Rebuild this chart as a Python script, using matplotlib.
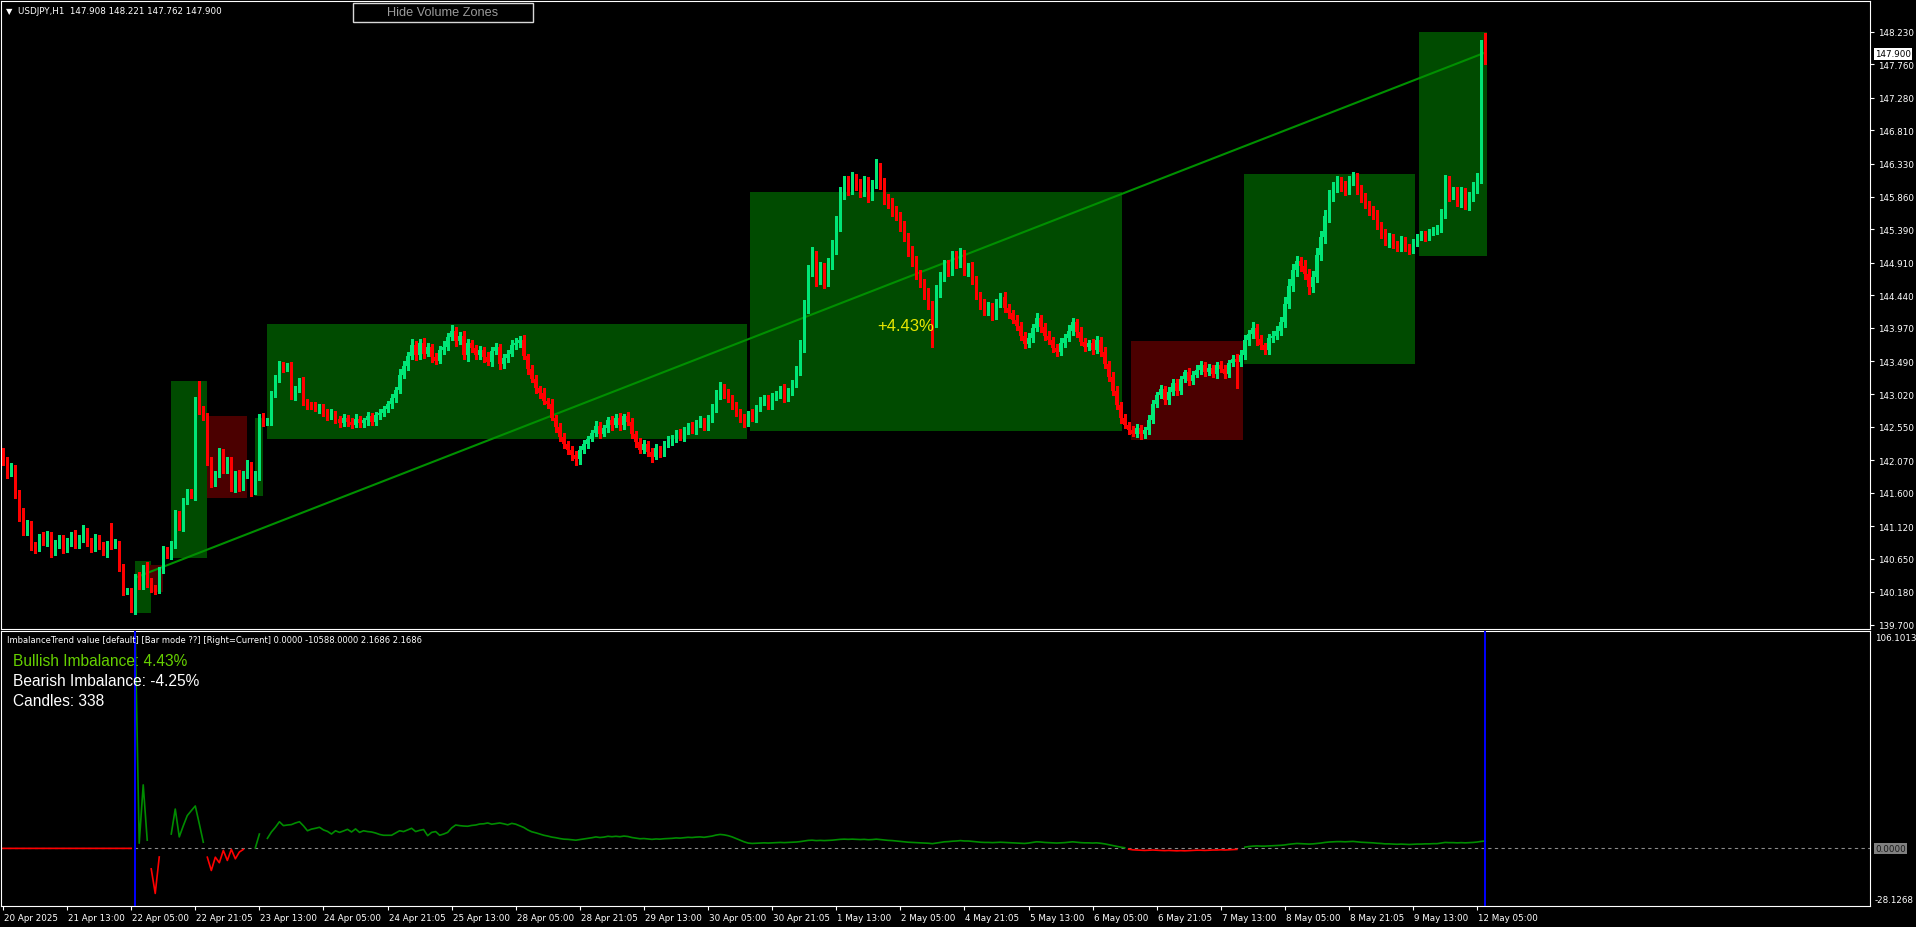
"""
USDJPY H1 chart with volume zones and ImbalanceTrend sub-window.
Rebuilt from a MetaTrader screenshot.
"""

import numpy as np
import matplotlib
matplotlib.use("Agg")
import matplotlib.pyplot as plt
from matplotlib.patches import Rectangle
from matplotlib import font_manager
from matplotlib.transforms import ScaledTranslation

# ── Data ──────────────────────────────────────────────────────
CLOSES = [
    142.05, 141.90, 141.95, 141.60, 141.30, 141.05, 141.15, 140.85, 140.80, 140.95, 140.90, 141.00, 140.75, 140.85, 140.95, 140.80,
    140.90, 141.00, 140.85, 140.95, 141.05, 140.90, 140.80, 140.95, 140.85, 140.75, 140.86, 140.84, 140.87, 140.53, 140.18, 140.19,
    139.91, 140.38, 140.26, 140.50, 140.31, 140.22, 140.20, 140.50, 140.77, 140.70, 140.86, 141.29, 141.10, 141.49, 141.61, 141.58,
    142.92, 142.80, 142.69, 142.06, 141.75, 141.87, 142.18, 141.94, 142.06, 141.68, 141.87, 141.68, 141.87, 141.99, 141.63, 141.85,
    142.69, 142.61, 142.63, 143.02, 143.24, 143.44, 143.39, 143.42, 143.00, 143.10, 143.20, 142.90, 142.87, 142.85, 142.81, 142.82,
    142.76, 142.70, 142.74, 142.66, 142.60, 142.68, 142.62, 142.58, 142.66, 142.60, 142.64, 142.70, 142.62, 142.72, 142.75, 142.80,
    142.87, 142.96, 143.08, 143.30, 143.43, 143.57, 143.72, 143.58, 143.76, 143.60, 143.70, 143.55, 143.50, 143.66, 143.70, 143.84,
    143.93, 143.78, 143.86, 143.58, 143.75, 143.68, 143.58, 143.65, 143.55, 143.48, 143.64, 143.70, 143.45, 143.54, 143.60, 143.72,
    143.76, 143.80, 143.56, 143.38, 143.24, 143.10, 143.04, 142.92, 142.88, 142.68, 142.55, 142.40, 142.30, 142.22, 142.14, 142.08,
    142.22, 142.30, 142.38, 142.46, 142.56, 142.45, 142.53, 142.65, 142.58, 142.68, 142.57, 142.70, 142.62, 142.45, 142.33, 142.22,
    142.30, 142.19, 142.12, 142.24, 142.18, 142.30, 142.35, 142.38, 142.46, 142.40, 142.49, 142.56, 142.50, 142.60, 142.63, 142.54,
    142.67, 142.82, 143.00, 143.12, 143.03, 142.96, 142.86, 142.75, 142.68, 142.60, 142.74, 142.68, 142.81, 142.91, 142.95, 142.86,
    142.98, 143.02, 143.09, 142.96, 143.05, 143.16, 143.35, 143.70, 144.25, 144.78, 145.00, 144.68, 144.82, 144.64, 144.88, 145.12,
    145.46, 145.90, 146.07, 145.97, 146.11, 146.02, 145.95, 146.07, 145.88, 146.04, 146.25, 146.05, 145.84, 145.76, 145.66, 145.58,
    145.44, 145.28, 145.09, 144.93, 144.74, 144.63, 144.47, 144.30, 144.08, 144.50, 144.70, 144.88, 144.79, 144.99, 144.91, 145.02,
    144.79, 144.84, 144.65, 144.44, 144.32, 144.21, 144.28, 144.16, 144.32, 144.41, 144.26, 144.18, 144.09, 144.00, 143.86, 143.74,
    143.83, 143.97, 144.11, 143.98, 143.86, 143.79, 143.68, 143.63, 143.75, 143.83, 143.93, 144.05, 143.91, 143.77, 143.70, 143.75,
    143.66, 143.79, 143.63, 143.45, 143.26, 143.07, 142.86, 142.68, 142.58, 142.51, 142.45, 142.53, 142.44, 142.50, 142.65, 142.88,
    143.00, 143.09, 142.93, 143.05, 143.18, 143.07, 143.23, 143.33, 143.21, 143.30, 143.37, 143.44, 143.33, 143.39, 143.31, 143.44,
    143.38, 143.31, 143.47, 143.53, 143.48, 143.58, 143.79, 143.88, 143.97, 143.81, 143.72, 143.65, 143.83, 143.86, 143.93, 144.05,
    144.32, 144.58, 144.81, 144.93, 144.86, 144.75, 144.56, 144.70, 145.02, 145.28, 145.58, 145.86, 145.99, 146.07, 146.02, 145.95,
    146.07, 146.14, 145.97, 145.84, 145.74, 145.67, 145.60, 145.44, 145.32, 145.21, 145.27, 145.18, 145.12, 145.23, 145.14, 145.09,
    145.20, 145.28, 145.31, 145.28, 145.35, 145.37, 145.41, 145.62, 146.07, 145.88, 145.93, 145.79, 145.92, 145.74, 145.86, 145.99,
    146.11, 147.91, 147.90,
]
FIRST_OPEN = 142.15
LAST_OPEN = 147.908

# wick lengths in hundredths of a yen
WICK_HI = [
    10, 6, 8, 5, 4, 8, 6, 5, 4, 6, 8, 5, 4, 7, 5, 4,
    5, 4, 6, 5, 8, 4, 5, 6, 5, 4, 5, 31, 6, 4, 5, 4,
    4, 5, 8, 6, 10, 6, 5, 4, 6, 5, 4, 6, 5, 4, 5, 4,
    6, 29, 5, 6, 5, 4, 6, 5, 6, 5, 4, 6, 5, 8, 5, 6,
    5, 6, 4, 5, 6, 5, 4, 5, 6, 4, 5, 6, 5, 4, 6, 5,
    6, 5, 7, 4, 5, 6, 4, 5, 7, 5, 4, 6, 5, 4, 6, 5,
    5, 6, 4, 8, 6, 5, 9, 6, 5, 7, 6, 4, 6, 5, 8, 6,
    8, 6, 5, 7, 6, 5, 4, 6, 5, 7, 6, 5, 4, 6, 5, 7,
    6, 5, 7, 4, 6, 5, 4, 6, 5, 7, 4, 5, 6, 4, 5, 6,
    5, 6, 4, 5, 7, 6, 5, 4, 6, 5, 7, 4, 6, 5, 4, 6,
    6, 4, 5, 6, 4, 5, 7, 5, 4, 6, 5, 4, 6, 5, 7, 4,
    5, 6, 8, 7, 5, 6, 4, 5, 6, 5, 4, 6, 5, 7, 6, 5,
    6, 5, 4, 7, 5, 6, 8, 10, 12, 9, 14, 7, 10, 8, 9, 11,
    12, 10, 9, 8, 10, 7, 9, 8, 7, 6, 15, 9, 7, 6, 8, 7,
    6, 7, 5, 6, 8, 6, 5, 7, 6, 9, 8, 7, 6, 8, 9, 10,
    7, 6, 8, 6, 5, 7, 6, 5, 7, 6, 8, 6, 5, 7, 6, 5,
    7, 6, 8, 5, 6, 7, 5, 6, 7, 5, 8, 6, 5, 7, 6, 5,
    6, 7, 5, 6, 5, 7, 6, 5, 6, 4, 5, 6, 4, 5, 7, 6,
    5, 6, 4, 7, 5, 6, 5, 4, 6, 5, 7, 5, 4, 6, 5, 4,
    5, 6, 4, 5, 6, 7, 8, 6, 9, 5, 6, 4, 5, 6, 7, 8,
    10, 9, 8, 7, 6, 8, 7, 9, 10, 8, 9, 10, 8, 9, 7, 6,
    8, 7, 6, 5, 7, 6, 5, 6, 5, 7, 6, 5, 4, 6, 5, 4,
    5, 4, 6, 5, 4, 5, 4, 6, 10, 8, 7, 6, 8, 6, 7, 8,
    9, 20, 31,
]
WICK_LO = [
    5, 8, 6, 8, 10, 6, 5, 7, 6, 4, 5, 6, 8, 5, 4, 6,
    5, 6, 4, 5, 6, 7, 5, 4, 6, 5, 8, 5, 4, 6, 5, 4,
    3, 5, 4, 5, 6, 5, 6, 4, 5, 4, 5, 6, 4, 5, 5, 6,
    8, 6, 5, 6, 7, 5, 4, 6, 5, 6, 7, 5, 4, 6, 7, 5,
    6, 5, 4, 5, 4, 5, 6, 4, 5, 6, 5, 4, 6, 5, 4, 6,
    5, 6, 4, 6, 5, 4, 6, 5, 4, 6, 5, 7, 4, 5, 6, 4,
    4, 5, 6, 4, 5, 6, 4, 7, 5, 6, 4, 7, 5, 4, 6, 5,
    5, 7, 4, 6, 8, 5, 6, 5, 7, 4, 6, 5, 7, 5, 6, 4,
    5, 6, 4, 7, 5, 6, 7, 5, 6, 4, 7, 6, 5, 6, 7, 8,
    7, 5, 6, 4, 5, 6, 4, 5, 7, 4, 6, 5, 4, 6, 7, 5,
    5, 6, 7, 4, 6, 5, 4, 6, 5, 4, 6, 5, 4, 6, 5, 4,
    4, 5, 6, 5, 7, 6, 5, 4, 6, 5, 4, 5, 6, 4, 5, 6,
    5, 4, 6, 5, 4, 5, 4, 6, 8, 7, 6, 10, 8, 9, 7, 6,
    8, 10, 7, 9, 8, 7, 9, 8, 10, 7, 6, 8, 9, 7, 8, 6,
    7, 6, 8, 7, 6, 7, 8, 6, 39, 10, 8, 6, 7, 6, 8, 7,
    6, 7, 5, 6, 8, 6, 5, 7, 6, 5, 6, 7, 5, 6, 7, 6,
    5, 6, 5, 7, 6, 5, 6, 7, 5, 6, 5, 6, 7, 5, 6, 5,
    6, 5, 7, 6, 5, 7, 6, 7, 5, 6, 4, 5, 6, 5, 6, 4,
    5, 4, 6, 5, 4, 6, 5, 4, 6, 5, 4, 6, 5, 4, 5, 6,
    5, 6, 4, 5, 38, 6, 5, 7, 6, 8, 5, 6, 5, 6, 5, 6,
    6, 7, 8, 9, 7, 8, 10, 8, 7, 8, 9, 8, 7, 6, 8, 7,
    6, 5, 7, 6, 5, 7, 6, 5, 6, 5, 7, 6, 5, 4, 6, 5,
    4, 5, 4, 6, 5, 4, 5, 6, 7, 8, 6, 7, 8, 6, 7, 6,
    8, 5, 14,
]

# ImbalanceTrend values per bar (None = no value drawn)
IMBALANCE = [
    0, 0, 0, 0, 0, 0, 0, 0, 0, 0, 0, 0, 0, 0, 0, 0,
    0, 0, 0, 0, 0, 0, 0, 0, 0, 0, 0, 0, 0, 0, 0, 0,
    0, 106, 2.5, 31, 4, -10, -22, -4.2, None, None, 7.0, 19.2, 5.6, 11, 16, 18.4,
    20.7, 12, 3, -4.3, -10.8, -4.3, -7, -1.0, -5.9, -0.5, -5.1, -1.8, -0.5, None, None, 0.3,
    7, None, 4.9, 8.0, 10.3, 13.0, 11.1, 11.4, 11.6, 12.4, 13.0, 11.0, 8.6, 9.4, 9.8, 10.3,
    9.0, 8.3, 7.0, 8.6, 7.8, 8.5, 9.3, 8.0, 9.5, 7.8, 8.6, 8.2, 8.0, 7.5, 6.8, 6.4,
    6.4, 6.4, 7.5, 8.6, 8.2, 9.0, 9.8, 8.2, 8.8, 9.2, 6.2, 7.8, 8.2, 6.4, 7.0, 7.8,
    10.0, 11.4, 11.1, 10.9, 10.8, 11.2, 11.4, 11.9, 12.0, 12.4, 11.8, 12.1, 12.4, 12.0, 11.5, 12.2,
    11.8, 11.0, 10.2, 9.0, 8.1, 7.6, 7.0, 6.4, 6.0, 5.5, 5.2, 4.8, 4.5, 4.4, 4.2, 4.0,
    4.3, 4.6, 4.9, 5.2, 5.6, 5.3, 5.5, 5.9, 5.7, 5.9, 5.7, 6.0, 5.8, 5.3, 5.0, 4.7,
    4.8, 4.6, 4.4, 4.6, 4.5, 4.7, 4.8, 4.9, 5.1, 5.0, 5.2, 5.4, 5.3, 5.5, 5.6, 5.4,
    5.7, 6.0, 6.5, 6.8, 6.6, 6.2, 5.6, 4.8, 4.0, 3.2, 2.6, 2.4, 2.5, 2.6, 2.7, 2.6,
    2.7, 2.8, 2.9, 2.8, 2.9, 3.0, 3.1, 3.3, 3.6, 3.9, 4.0, 3.8, 3.9, 3.8, 3.9, 4.0,
    4.2, 4.4, 4.5, 4.4, 4.5, 4.4, 4.3, 4.4, 4.2, 4.3, 4.5, 4.3, 4.1, 3.9, 3.8, 3.6,
    3.4, 3.2, 3.0, 2.9, 2.8, 2.7, 2.6, 2.5, 2.3, 2.6, 2.9, 3.2, 3.3, 3.5, 3.6, 3.8,
    3.6, 3.6, 3.4, 3.2, 3.0, 2.9, 2.9, 2.8, 2.9, 3.0, 2.9, 2.8, 2.7, 2.6, 2.5, 2.4,
    2.6, 2.9, 3.2, 3.1, 2.9, 2.8, 2.7, 2.6, 2.7, 2.8, 3.0, 3.2, 3.0, 2.8, 2.7, 2.7,
    2.6, 2.7, 2.5, 2.2, 1.8, 1.4, 1.0, 0.6, 0.3, -0.4, -0.7, -0.8, -0.9, -1.0, -0.9, -0.8,
    -0.9, -1.0, -1.1, -1.0, -1.1, -1.2, -1.1, -1.2, -1.1, -1.0, -0.9, -0.9, -1.0, -0.9, -0.8, -0.8,
    -0.7, -0.8, -0.7, -0.6, -0.5, None, 0.6, 0.9, 1.1, 1.2, 1.1, 1.1, 1.2, 1.3, 1.4, 1.5,
    1.7, 2.0, 2.2, 2.4, 2.3, 2.2, 2.1, 2.2, 2.4, 2.6, 2.9, 3.1, 3.2, 3.3, 3.3, 3.2,
    3.3, 3.4, 3.2, 3.0, 2.9, 2.8, 2.7, 2.5, 2.4, 2.2, 2.2, 2.1, 2.0, 2.1, 2.0, 1.9,
    2.0, 2.1, 2.1, 2.2, 2.2, 2.3, 2.3, 2.6, 2.9, 2.8, 2.8, 2.7, 2.8, 2.7, 2.8, 2.9,
    3.1, 3.4, 3.6,
]

# volume zones: bar range, price range, bullish?
ZONE_START = [33.0, 36.7, 41.9, 50.9, 62.9, 65.9, 186.5, 281.7, 309.8, 353.5]
ZONE_END   = [36.9, 40.0, 50.9, 60.9, 64.9, 185.6, 279.3, 309.5, 352.5, 370.4]
ZONE_LOW   = [139.87, 140.17, 140.66, 141.52, 141.56, 142.38, 142.49, 142.36, 143.45, 145.00]
ZONE_HIGH  = [140.62, 140.56, 143.21, 142.71, 142.68, 144.03, 145.92, 143.78, 146.18, 148.23]
ZONE_BULL  = [True, False, True, False, True, True, True, False, True, True]

TREND_BARS   = [33, 370]
TREND_PRICES = [140.38, 147.93]
TREND_LABEL  = "+4.43%"
TREND_LABEL_POS = (225.4, 144.01)

START_BAR = 33

PRICE_TICKS = [148.230, 147.760, 147.280, 146.810, 146.330, 145.860, 145.390,
               144.910, 144.440, 143.970, 143.490, 143.020, 142.550, 142.070,
               141.600, 141.120, 140.650, 140.180, 139.700]
PRICE_YLIM = (139.649, 148.671)
IND_YLIM = (-28.1268, 106.1013)

TIME_TICK_BARS = list(range(0, 369, 16))
TIME_TICK_LABELS = [
    "20 Apr 2025", "21 Apr 13:00", "22 Apr 05:00", "22 Apr 21:05", "23 Apr 13:00",
    "24 Apr 05:00", "24 Apr 21:05", "25 Apr 13:00", "28 Apr 05:00", "28 Apr 21:05",
    "29 Apr 13:00", "30 Apr 05:00", "30 Apr 21:05", "1 May 13:00", "2 May 05:00",
    "4 May 21:05", "5 May 13:00", "6 May 05:00", "6 May 21:05", "7 May 13:00",
    "8 May 05:00", "8 May 21:05", "9 May 13:00", "12 May 05:00",
]

HEADER = "USDJPY,H1  147.908 148.221 147.762 147.900"
IND_TITLE = ("ImbalanceTrend value [default] [Bar mode ??] [Right=Current] "
             "0.0000 -10588.0000 2.1686 2.1686")
IND_LINES = ["Bullish Imbalance: 4.43%", "Bearish Imbalance: -4.25%", "Candles: 338"]

# ── Style ─────────────────────────────────────────────────────
W, H, DPI = 1916, 928, 100
BULL = "#00E676"
BEAR = "#FF0000"
ZONE_G = "#004B00"
ZONE_R = "#4B0000"
TREND = "#009000"
IND_G = "#008C00"
LIME = "#66D000"

names = {f.name for f in font_manager.fontManager.ttflist}
if "Liberation Sans Narrow" in names:
    SMALL_FONT, SMALL = ["Liberation Sans Narrow", "DejaVu Sans"], 7.8
else:
    SMALL_FONT, SMALL = ["DejaVu Sans"], 6.3
BIG_FONT = ["Liberation Sans", "DejaVu Sans"]


def fx(px):
    return px / W


def fy(py):
    return 1 - py / H


# bar i sits at pixel 3 + 4.006 * i
XLIM = ((0.5 - 3) / 4.006, (1870 - 3) / 4.006)

fig = plt.figure(figsize=(W / DPI, H / DPI), dpi=DPI, facecolor="black")
ax = fig.add_axes([fx(0.5), fy(629.5), fx(1870) - fx(0.5), fy(2) - fy(629.5)])
axi = fig.add_axes([fx(0.5), fy(907), fx(1870) - fx(0.5), fy(632) - fy(907)])

for a in (ax, axi):
    a.set_facecolor("black")
    for s in a.spines.values():
        s.set_color("white")
        s.set_linewidth(0.8)
    a.set_xlim(*XLIM)

# ── Price panel ───────────────────────────────────────────────
closes = np.array(CLOSES)
opens = np.r_[FIRST_OPEN, closes[:-1]]
opens[-1] = LAST_OPEN
highs = np.maximum(opens, closes) + np.array(WICK_HI) / 100
lows = np.minimum(opens, closes) - np.array(WICK_LO) / 100
bars = np.arange(len(closes))
up = closes >= opens
colors = np.where(up, BULL, BEAR)

for x0, x1, lo, hi, bull in zip(ZONE_START, ZONE_END, ZONE_LOW, ZONE_HIGH, ZONE_BULL):
    ax.add_patch(Rectangle((x0, lo), x1 - x0, hi - lo,
                           facecolor=ZONE_G if bull else ZONE_R,
                           edgecolor="none", antialiased=False, zorder=1))

ax.plot(TREND_BARS, TREND_PRICES, color=TREND, linewidth=1.5, zorder=2)

ax.vlines(bars, lows, highs, colors=colors, linewidth=0.75,
          antialiased=False, zorder=3)
body = np.maximum(np.abs(closes - opens), 0.012)
ax.bar(bars, body, bottom=np.minimum(opens, closes), width=0.74,
       color=colors, linewidth=0, antialiased=False, zorder=4)

ax.text(*TREND_LABEL_POS, TREND_LABEL, color="#E8E800", fontsize=12,
        family=BIG_FONT, ha="center", va="center", zorder=5)

ax.set_ylim(*PRICE_YLIM)
ax.yaxis.tick_right()
ax.set_yticks(PRICE_TICKS)
ax.set_yticklabels([f"{p:.3f}" for p in PRICE_TICKS], family=SMALL_FONT)
ax.tick_params(axis="y", colors="white", labelsize=SMALL, length=3, width=0.8,
               direction="out", pad=3)
ax.set_xticks([])

# current price marker
fig.text(fx(1893), fy(54.7), f"{CLOSES[-1]:.3f}", color="black", fontsize=SMALL,
         family=SMALL_FONT, ha="center", va="center",
         bbox=dict(boxstyle="square,pad=0.15", facecolor="white", edgecolor="none"))

# ── Indicator panel ───────────────────────────────────────────
ind = np.array([np.nan if v is None else v for v in IMBALANCE], dtype=float)
ind_pos = np.where(ind > 0, ind, np.nan)
ind_neg = np.where(ind <= 0, ind, np.nan)

axi.axhline(0, color="#8a8a8a", linewidth=0.8, linestyle=(0, (3, 3)), zorder=1)
axi.plot(bars, ind_neg, color=BEAR, linewidth=1.2, zorder=2)
axi.plot(bars, ind_pos, color=IND_G, linewidth=1.2, zorder=2)
for b in (START_BAR, bars[-1]):
    axi.axvline(b, color="#0000FF", linewidth=1.4, zorder=3)

axi.set_ylim(*IND_YLIM)
axi.set_yticks([])
axi.set_xticks(TIME_TICK_BARS)
axi.set_xticklabels(TIME_TICK_LABELS, family=SMALL_FONT, ha="left")
axi.tick_params(axis="x", colors="white", labelsize=SMALL, length=3, width=0.8,
                direction="out", pad=2)
shift = ScaledTranslation(1 / DPI, 0, fig.dpi_scale_trans)
for lab in axi.get_xticklabels():
    lab.set_transform(lab.get_transform() + shift)

fig.text(fx(1875), fy(638.7), f"{IND_YLIM[1]:.4f}", color="white", fontsize=SMALL,
         family=SMALL_FONT, ha="left", va="center")
fig.text(fx(1875), fy(900.7), f"{IND_YLIM[0]:.4f}", color="white", fontsize=SMALL,
         family=SMALL_FONT, ha="left", va="center")
fig.text(fx(1890.5), fy(849.4), "0.0000", color="#1a1a1a", fontsize=SMALL,
         family=SMALL_FONT, ha="center", va="center",
         bbox=dict(boxstyle="square,pad=0.15", facecolor="#808080", edgecolor="none"))

fig.text(fx(7), fy(641), IND_TITLE, color="white", fontsize=SMALL - 0.3,
         family=SMALL_FONT, ha="left", va="center")
for i, (txt, col) in enumerate(zip(IND_LINES, [LIME, "white", "white"])):
    fig.text(fx(13), fy(661.7 + 20 * i), txt, color=col, fontsize=11.2,
             family=BIG_FONT, ha="left", va="center")

# ── Header & button ───────────────────────────────────────────
fig.text(fx(9.5), fy(12), "▼", color="white", fontsize=6, family=["DejaVu Sans"],
         ha="center", va="center")
fig.text(fx(18), fy(12), HEADER, color="white", fontsize=SMALL,
         family=SMALL_FONT, ha="left", va="center")
fig.patches.append(Rectangle((fx(353), fy(23)), fx(533) - fx(353), fy(4) - fy(23),
                             transform=fig.transFigure, facecolor="black",
                             edgecolor="#d8d8d8", linewidth=1.0))
fig.text(fx(443), fy(13.5), "Hide Volume Zones", color="#9a9a9a", fontsize=9.2,
         family=BIG_FONT, ha="center", va="center")

fig.savefig("out.png", dpi=DPI, facecolor="black")
